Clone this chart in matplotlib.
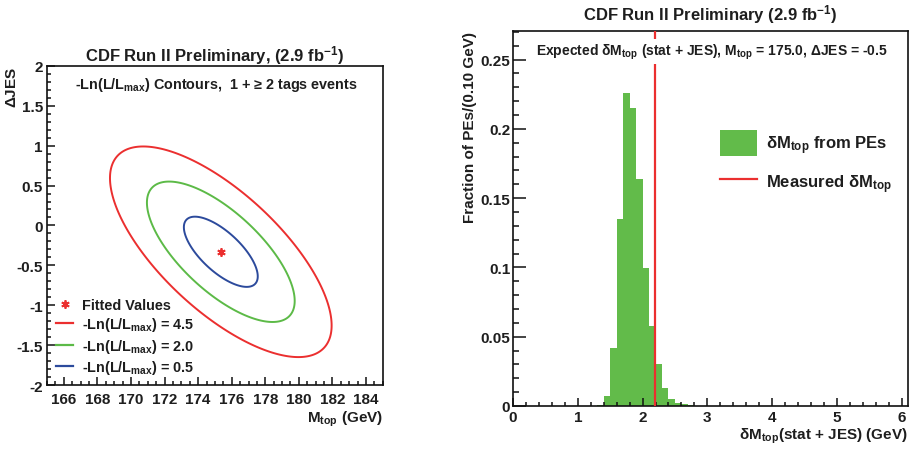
import numpy as np
import matplotlib
matplotlib.use('Agg')
import matplotlib.pyplot as plt
from matplotlib.ticker import MultipleLocator, FuncFormatter
from matplotlib.lines import Line2D
from matplotlib.patches import Patch

plt.rcParams['font.family'] = ['Liberation Sans', 'DejaVu Sans']
plt.rcParams['font.weight'] = 'bold'
plt.rcParams['axes.labelweight'] = 'bold'
plt.rcParams['axes.titleweight'] = 'bold'
plt.rcParams['mathtext.fontset'] = 'custom'
for k in ['rm', 'it', 'bf', 'sf']:
    plt.rcParams['mathtext.' + k] = 'Liberation Sans:bold'
plt.rcParams['mathtext.default'] = 'bf'

TXT = '#1e1e1e'
RED = '#eb2f2f'
GREEN = '#5cba47'
BLUE = '#2c4a9c'
HGREEN = '#62bb4a'

# ---------------- left panel data (fit result) ----------------
fit_mtop = [175.35]
fit_djes = [-0.33]
sigma_mtop = 2.2
sigma_djes = 0.44
rho = -0.70
nll_levels = [0.5, 2.0, 4.5]
level_colors = [BLUE, GREEN, RED]
legend_levels = ['4.5', '2.0', '0.5']
legend_colors = [RED, GREEN, BLUE]

# ---------------- right panel data (histogram) ----------------
bin_edges = [1.3, 1.4, 1.5, 1.6, 1.7, 1.8, 1.9, 2.0, 2.1, 2.2, 2.3, 2.4, 2.5, 2.6, 2.7, 2.8]
fractions = [0.001, 0.0072, 0.042, 0.135, 0.2255, 0.215, 0.164, 0.0998, 0.0577,
             0.030, 0.0132, 0.0048, 0.0024, 0.0014, 0.001]
measured_dm = 2.19

fig = plt.figure(figsize=(9.15, 4.52), dpi=100)
axL = fig.add_axes([0.0514, 0.146, 0.367, 0.706])
axR = fig.add_axes([0.5607, 0.0996, 0.4317, 0.8296])

fmt = FuncFormatter(lambda v, p: '%g' % round(v, 4))

def style(ax, maj_len_x, maj_len_y):
    for s in ax.spines.values():
        s.set_linewidth(1.2)
        s.set_color('#111111')
    ax.tick_params(which='both', direction='in', top=False, right=False,
                   colors='#111111', labelcolor=TXT, width=1.1)
    ax.tick_params(axis='x', which='major', length=maj_len_x)
    ax.tick_params(axis='x', which='minor', length=maj_len_x / 2)
    ax.tick_params(axis='y', which='major', length=maj_len_y)
    ax.tick_params(axis='y', which='minor', length=maj_len_y / 2)
    ax.xaxis.set_major_formatter(fmt)
    ax.yaxis.set_major_formatter(fmt)

# ---------------- left ----------------
xg = np.linspace(165, 185, 500)
yg = np.linspace(-2, 2, 500)
X, Y = np.meshgrid(xg, yg)
dx = (X - fit_mtop[0]) / sigma_mtop
dy = (Y - fit_djes[0]) / sigma_djes
nll = 0.5 * (dx ** 2 - 2 * rho * dx * dy + dy ** 2) / (1 - rho ** 2)
axL.contour(X, Y, nll, levels=nll_levels, colors=level_colors, linewidths=1.4)
axL.plot(fit_mtop, fit_djes, ls='none', marker=(6, 2, 0), color=RED, ms=6, mew=1.3)

axL.set_xlim(165, 185)
axL.set_ylim(-2, 2)
axL.xaxis.set_major_locator(MultipleLocator(2))
axL.xaxis.set_minor_locator(MultipleLocator(0.5))
axL.yaxis.set_major_locator(MultipleLocator(0.5))
axL.yaxis.set_minor_locator(MultipleLocator(0.1))
style(axL, 6, 6)
axL.tick_params(axis='x', labelsize=11, pad=5)
axL.tick_params(axis='y', labelsize=11, pad=3)
for t in axL.get_xticklabels() + axL.get_yticklabels():
    t.set_fontweight('bold')

axL.set_title(r'CDF Run II Preliminary, (2.9 fb$^{-1}$)', fontsize=12, color=TXT, pad=4)
axL.set_xlabel(r'M$_{top}$ (GeV)', fontsize=11, color=TXT, loc='right', labelpad=2)
axL.set_ylabel(r'$\Delta$JES', fontsize=11, color=TXT, loc='top')
axL.yaxis.set_label_coords(-0.082, 1.0)
axL.text(0.083, 0.931, r'-Ln(L/L$_{max}$) Contours,  1 + ≥ 2 tags events',
         transform=axL.transAxes, fontsize=10.4, color=TXT, va='baseline', ha='left')

handles = [Line2D([], [], ls='none', marker=(6, 2, 0), color=RED, ms=6, mew=1.3)]
labels = ['Fitted Values']
for lv, c in zip(legend_levels, legend_colors):
    handles.append(Line2D([], [], color=c, lw=1.6))
    labels.append(r'-Ln(L/L$_{max}$) = ' + lv)
legL = axL.legend(handles, labels, loc='upper left', bbox_to_anchor=(0.027, 0.272),
                  frameon=False, fontsize=10.4, handlelength=1.2, handletextpad=0.6,
                  labelspacing=0.22, borderpad=0, borderaxespad=0)
for t in legL.get_texts():
    t.set_color(TXT)

# ---------------- right ----------------
axR.stairs(fractions, bin_edges, fill=True, color=HGREEN, lw=0)
axR.axvline(measured_dm, color=RED, lw=1.6, zorder=3)
axR.set_xlim(0, 6.1)
axR.set_ylim(0, 1.2 * max(fractions))
axR.xaxis.set_major_locator(MultipleLocator(1))
axR.xaxis.set_minor_locator(MultipleLocator(0.2))
axR.yaxis.set_major_locator(MultipleLocator(0.05))
axR.yaxis.set_minor_locator(MultipleLocator(0.01))
style(axR, 6, 9)
axR.tick_params(axis='x', labelsize=11, pad=3)
axR.tick_params(axis='y', labelsize=11, pad=2)
for t in axR.get_xticklabels() + axR.get_yticklabels():
    t.set_fontweight('bold')

axR.set_title(r'CDF Run II Preliminary (2.9 fb$^{-1}$)', fontsize=12, color=TXT, pad=8)
axR.set_xlabel(r'$\delta$M$_{top}$(stat + JES) (GeV)', fontsize=11, color=TXT,
               loc='right', labelpad=1)
axR.set_ylabel('Fraction of PEs/(0.10 GeV)', fontsize=11, color=TXT, loc='top')
axR.yaxis.set_label_coords(-0.09, 1.0)
axR.text(0.058, 0.936,
         r'Expected $\delta$M$_{top}$ (stat + JES), M$_{top}$ = 175.0, $\Delta$JES = -0.5',
         transform=axR.transAxes, fontsize=10, color=TXT, va='baseline', ha='left',
         zorder=5, bbox=dict(facecolor='white', edgecolor='none', pad=2))

hR = [Patch(facecolor=HGREEN, edgecolor='none'), Line2D([], [], color=RED, lw=1.6)]
lR = [r'$\delta$M$_{top}$ from PEs', r'Measured $\delta$M$_{top}$']
legR = axR.legend(hR, lR, loc='upper left', bbox_to_anchor=(0.524, 0.735),
                  frameon=False, fontsize=12, handlelength=2.2, handleheight=2.0,
                  handletextpad=0.55, labelspacing=0.8, borderpad=0, borderaxespad=0)
for t in legR.get_texts():
    t.set_color(TXT)

fig.savefig('out.png', dpi=100)
